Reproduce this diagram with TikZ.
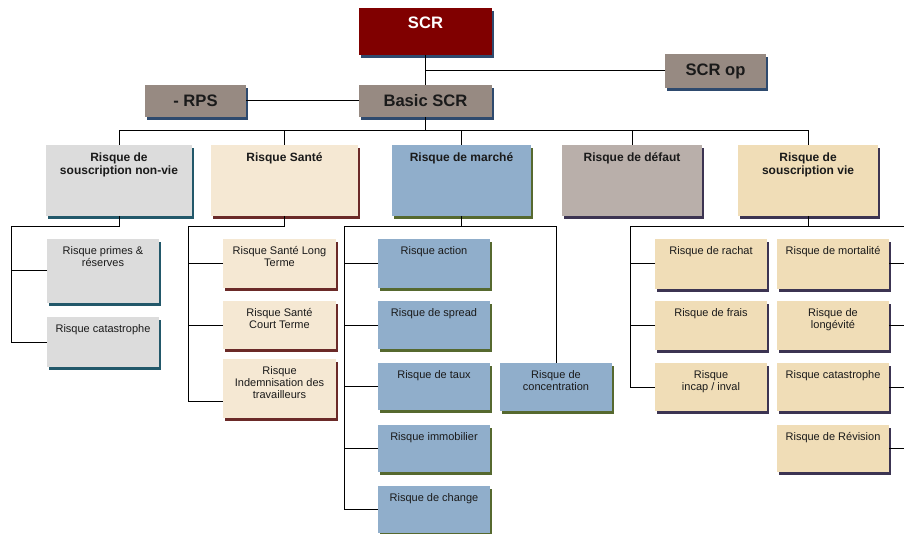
\documentclass[tikz,border=0pt]{standalone}
\usepackage{fontspec}
\setmainfont{Liberation Sans}
\definecolor{scrred}{HTML}{800000}
\definecolor{navysh}{HTML}{2E4A6E}
\definecolor{taupe}{HTML}{978A82}
\definecolor{gris}{HTML}{DCDCDC}
\definecolor{tealsh}{HTML}{22586A}
\definecolor{creme}{HTML}{F5E8D3}
\definecolor{brownsh}{HTML}{6B2A28}
\definecolor{bleu}{HTML}{90AECB}
\definecolor{olivesh}{HTML}{56692F}
\definecolor{defc}{HTML}{B9AFAA}
\definecolor{purpsh}{HTML}{3C3452}
\definecolor{wheat}{HTML}{F0DDB7}
\definecolor{ink}{HTML}{1A1A1A}
\newcommand\boxtext[4]{\parbox[t][#2][t]{#1}{\vspace*{#3}\centering #4\par}}
\tikzset{
  conn/.style={line width=1pt, draw=black},
  bx/.style={anchor=north west, inner sep=0pt, outer sep=0pt, fill=#1, text=ink},
  sh/.style={preaction={fill=#1, transform canvas={xshift=2pt,yshift=-3pt}}},
  lone/.style={font=\fontsize{16.6}{19}\selectfont\bfseries},
  ltwo/.style={font=\fontsize{12}{13}\selectfont\bfseries},
  lthree/.style={font=\fontsize{11}{12}\selectfont},
}
\begin{document}
\begin{tikzpicture}[x=1pt,y=-1pt]
\useasboundingbox (0,0) rectangle (904,534);
\clip (0,0) rectangle (904,534);
% level 1
\node[bx=scrred, sh=navysh, lone, text=white] (scr) at (359,8) {\boxtext{133pt}{47pt}{8.5pt}{SCR}};
\node[bx=taupe, sh=navysh, lone, minimum width=133pt, minimum height=32pt] (basic) at (359,85) {Basic SCR};
\node[bx=taupe, sh=navysh, lone, minimum width=101pt, minimum height=32pt] (rps) at (145,85) {- RPS};
\node[bx=taupe, sh=navysh, lone, minimum width=101pt, minimum height=34pt] (scrop) at (665,54) {SCR op};
% level 2
\node[bx=gris, sh=tealsh, ltwo] (nonvie) at (46,145) {\boxtext{146pt}{71pt}{8pt}{Risque de\\souscription non-vie}};
\node[bx=creme, sh=brownsh, ltwo] (sante) at (211,145) {\boxtext{147pt}{71pt}{8pt}{Risque Santé}};
\node[bx=bleu, sh=olivesh, ltwo] (marche) at (392,145) {\boxtext{139pt}{71pt}{8pt}{Risque de marché}};
\node[bx=defc, sh=purpsh, ltwo] (defaut) at (562,145) {\boxtext{140pt}{71pt}{8pt}{Risque de défaut}};
\node[bx=wheat, sh=purpsh, ltwo] (vie) at (738,145) {\boxtext{140pt}{71pt}{8pt}{Risque de\\souscription vie}};
% non-vie children
\node[bx=gris, sh=tealsh, lthree] (primes) at (47,239) {\boxtext{112pt}{64pt}{7.5pt}{Risque primes \&\\réserves}};
\node[bx=gris, sh=tealsh, lthree] (catnv) at (47,317) {\boxtext{112pt}{50pt}{7.5pt}{Risque catastrophe}};
% sante children
\node[bx=creme, sh=brownsh, lthree] (slong) at (223,239) {\boxtext{113pt}{49pt}{7.5pt}{Risque Santé Long\\Terme}};
\node[bx=creme, sh=brownsh, lthree] (scourt) at (223,301) {\boxtext{113pt}{48pt}{7.5pt}{Risque Santé\\Court Terme}};
\node[bx=creme, sh=brownsh, lthree] (sindem) at (223,359) {\boxtext{113pt}{59pt}{7.5pt}{Risque\\Indemnisation des\\travailleurs}};
% marche children
\node[bx=bleu, sh=olivesh, lthree] (action) at (378,239) {\boxtext{112pt}{49pt}{7.5pt}{Risque action}};
\node[bx=bleu, sh=olivesh, lthree] (spread) at (378,301) {\boxtext{112pt}{48pt}{7.5pt}{Risque de spread}};
\node[bx=bleu, sh=olivesh, lthree] (taux) at (378,363) {\boxtext{112pt}{47pt}{7.5pt}{Risque de taux}};
\node[bx=bleu, sh=olivesh, lthree] (immo) at (378,425) {\boxtext{112pt}{47pt}{7.5pt}{Risque immobilier}};
\node[bx=bleu, sh=olivesh, lthree] (change) at (378,486) {\boxtext{112pt}{47pt}{7.5pt}{Risque de change}};
\node[bx=bleu, sh=olivesh, lthree] (conc) at (500,363) {\boxtext{112pt}{48pt}{7.5pt}{Risque de\\concentration}};
% vie children
\node[bx=wheat, sh=purpsh, lthree] (rachat) at (655,239) {\boxtext{112pt}{50pt}{7.5pt}{Risque de rachat}};
\node[bx=wheat, sh=purpsh, lthree] (frais) at (655,301) {\boxtext{112pt}{49pt}{7.5pt}{Risque de frais}};
\node[bx=wheat, sh=purpsh, lthree] (incap) at (655,363) {\boxtext{112pt}{48pt}{7.5pt}{Risque\\incap / inval}};
\node[bx=wheat, sh=purpsh, lthree] (mort) at (777,239) {\boxtext{112pt}{50pt}{7.5pt}{Risque de mortalité}};
\node[bx=wheat, sh=purpsh, lthree] (longev) at (777,301) {\boxtext{112pt}{49pt}{7.5pt}{Risque de\\longévité}};
\node[bx=wheat, sh=purpsh, lthree] (catvie) at (777,363) {\boxtext{112pt}{48pt}{7.5pt}{Risque catastrophe}};
\node[bx=wheat, sh=purpsh, lthree] (revis) at (777,425) {\boxtext{112pt}{47pt}{7.5pt}{Risque de Révision}};
% connectors level 1
\draw[conn] (scr.south) -- (basic.north);
\draw[conn] (scrop.west) -- (scrop.west -| scr.south);
\draw[conn] (rps.east) -- (basic.west);
\draw[conn] (basic.south) -- ++(0,14) coordinate (bus);
\foreach \n in {nonvie,sante,marche,defaut,vie} \draw[conn] (\n.north) |- (bus);
% non-vie
\coordinate (nvt) at (11,227);
\draw[conn] (nonvie.south) |- (nvt) |- (catnv.west);
\draw[conn] (primes.west) -- (primes.west -| nvt);
% sante
\coordinate (sat) at (188,227);
\draw[conn] (sante.south) |- (sat) |- ([yshift=-13pt]sindem.west);
\foreach \n in {slong,scourt} \draw[conn] (\n.west) -- (\n.west -| sat);
% marche
\coordinate (mat) at (344,227);
\draw[conn] (marche.south) |- (mat) |- (change.west);
\foreach \n in {action,spread,taux,immo} \draw[conn] (\n.west) -- (\n.west -| mat);
\draw[conn] (marche.south |- mat) -| (conc.north);
% vie
\coordinate (vlt) at (630,227);
\coordinate (vrt) at (912,227);
\draw[conn] (vie.south) |- (vlt) |- (incap.west);
\foreach \n in {rachat,frais} \draw[conn] (\n.west) -- (\n.west -| vlt);
\draw[conn] (vie.south |- vlt) -- (vrt) -- (vrt |- revis.east);
\foreach \n in {mort,longev,catvie,revis} \draw[conn] (\n.east) -- (\n.east -| vrt);
\end{tikzpicture}
\end{document}
